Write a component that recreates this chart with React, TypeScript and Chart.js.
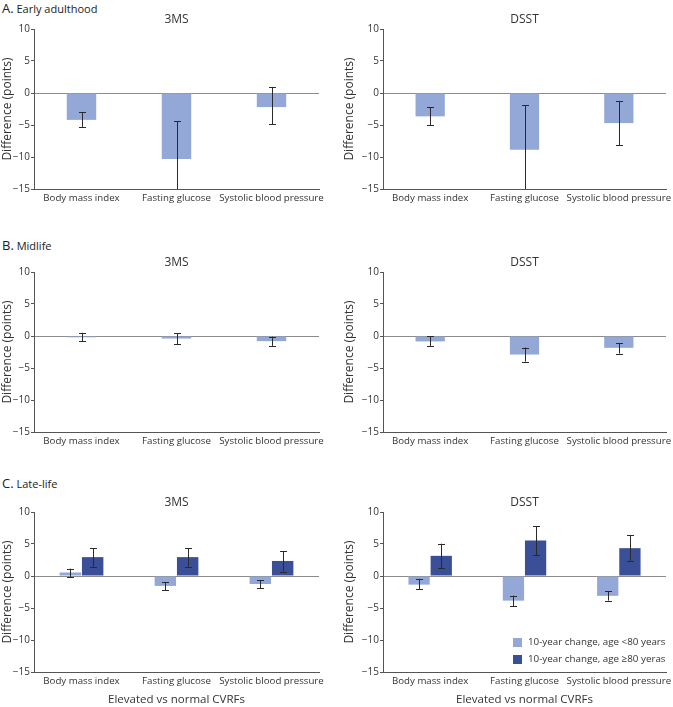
import React, { useEffect, useRef } from "react";
import { Chart, registerables } from "chart.js";

Chart.register(...registerables);
Chart.defaults.font.family = "'Open Sans', sans-serif";

const categories = ["Body mass index", "Fasting glucose", "Systolic blood pressure"];
const yMin = -15;
const yMax = 10;
const yStep = 5;

// A. Early adulthood
const early3msMean = [-4.2, -10.3, -2.2];
const early3msLow = [-5.3, -16.2, -4.85];
const early3msHigh = [-3.0, -4.4, 0.95];
const earlyDsstMean = [-3.65, -8.85, -4.7];
const earlyDsstLow = [-5.05, -15.8, -8.2];
const earlyDsstHigh = [-2.2, -1.9, -1.25];

// B. Midlife
const mid3msMean = [-0.2, -0.4, -0.8];
const mid3msLow = [-0.85, -1.25, -1.55];
const mid3msHigh = [0.5, 0.45, -0.1];
const midDsstMean = [-0.85, -2.9, -1.85];
const midDsstLow = [-1.55, -4.0, -2.75];
const midDsstHigh = [-0.05, -1.8, -1.15];

// C. Late-life
const late3msYoungMean = [0.55, -1.55, -1.25];
const late3msYoungLow = [-0.15, -2.25, -1.9];
const late3msYoungHigh = [1.15, -1.0, -0.65];
const late3msOldMean = [2.95, 2.95, 2.35];
const late3msOldLow = [1.45, 1.45, 0.7];
const late3msOldHigh = [4.35, 4.35, 3.85];
const lateDsstYoungMean = [-1.35, -3.85, -3.1];
const lateDsstYoungLow = [-2.1, -4.7, -3.85];
const lateDsstYoungHigh = [-0.45, -3.05, -2.4];
const lateDsstOldMean = [3.15, 5.55, 4.35];
const lateDsstOldLow = [1.2, 3.25, 2.3];
const lateDsstOldHigh = [5.05, 7.8, 6.4];

const seriesLabels = ["10-year change, age <80 years", "10-year change, age \u226580 yeras"];
const yTitle = "Difference (points)";
const xTitle = "Elevated vs normal CVRFs";

const LIGHT = "#93a8d7";
const DARK = "#3a4f98";
const TEXT = "#333333";
const AXIS = "#555555";

const errorBarPlugin = {
  id: "errorBars",
  afterDatasetsDraw(chart: any) {
    const { ctx, chartArea } = chart;
    const ys = chart.scales.y;
    chart.data.datasets.forEach((ds: any, di: number) => {
      const meta = chart.getDatasetMeta(di);
      meta.data.forEach((el: any, i: number) => {
        const x = Math.round(el.x) + 0.5;
        const hi = ys.getPixelForValue(ds.errHigh[i]);
        const lo = ys.getPixelForValue(ds.errLow[i]);
        const top = Math.max(hi, chartArea.top);
        const bot = Math.min(lo, chartArea.bottom);
        ctx.save();
        ctx.strokeStyle = "#2a2a2a";
        ctx.lineWidth = 1;
        ctx.beginPath();
        ctx.moveTo(x, top);
        ctx.lineTo(x, bot);
        if (hi >= chartArea.top) {
          const yy = Math.round(hi) + 0.5;
          ctx.moveTo(x - 3.5, yy);
          ctx.lineTo(x + 3.5, yy);
        }
        if (lo <= chartArea.bottom) {
          const yy = Math.round(lo) + 0.5;
          ctx.moveTo(x - 3.5, yy);
          ctx.lineTo(x + 3.5, yy);
        }
        ctx.stroke();
        ctx.restore();
      });
    });
  },
};

const insideLegendPlugin = {
  id: "insideLegend",
  afterDraw(chart: any, _args: any, opts: any) {
    if (!opts || !opts.show) return;
    const { ctx, chartArea } = chart;
    ctx.save();
    ctx.font = "9.8px 'Open Sans', sans-serif";
    ctx.textBaseline = "middle";
    ctx.textAlign = "left";
    chart.data.datasets.forEach((ds: any, i: number) => {
      const cy = chartArea.bottom - 30 + i * 17;
      const sx = chartArea.right - 153;
      ctx.fillStyle = ds.backgroundColor;
      ctx.fillRect(sx, cy - 4, 9, 9);
      ctx.fillStyle = TEXT;
      ctx.fillText(ds.label, chartArea.right - 138, cy + 0.5);
    });
    ctx.restore();
  },
};

type Series = { label: string; mean: number[]; low: number[]; high: number[]; color: string };

type PanelProps = {
  title: string;
  series: Series[];
  left: number;
  top: number;
  width: number;
  height: number;
  yAxisWidth: number;
  yTitlePad: number;
  rightPad: number;
  xAxisHeight: number;
  showXTitle: boolean;
  showLegend: boolean;
};

function Panel(p: PanelProps) {
  const ref = useRef<HTMLCanvasElement | null>(null);
  useEffect(() => {
    if (!ref.current) return;
    const two = p.series.length > 1;
    const chart = new Chart(ref.current, {
      type: "bar",
      data: {
        labels: categories,
        datasets: p.series.map((s) => ({
          label: s.label,
          data: s.mean,
          errLow: s.low,
          errHigh: s.high,
          backgroundColor: s.color,
          borderWidth: 0,
          categoryPercentage: two ? 0.47 : 0.31,
          barPercentage: two ? 0.96 : 1,
        })) as any,
      },
      options: {
        animation: false,
        responsive: false,
        devicePixelRatio: 1,
        layout: { padding: { left: 0, right: p.rightPad, top: 0, bottom: 0 } },
        plugins: {
          legend: { display: false },
          tooltip: { enabled: false },
          title: {
            display: true,
            text: p.title,
            color: TEXT,
            fullSize: false,
            font: { size: 12, weight: "normal" },
            padding: { top: 3.6, bottom: 2 },
          },
          insideLegend: { show: p.showLegend },
        } as any,
        scales: {
          x: {
            grid: { display: false, drawTicks: false },
            border: { display: true, color: AXIS, width: 1 },
            ticks: { color: TEXT, font: { size: 9.7 }, padding: 3, maxRotation: 0, minRotation: 0, autoSkip: false },
            title: {
              display: p.showXTitle,
              text: xTitle,
              color: TEXT,
              font: { size: 11.5 },
              padding: { top: 4, bottom: 0 },
            },
            afterFit: (s: any) => {
              s.height = p.xAxisHeight;
            },
          },
          y: {
            min: yMin,
            max: yMax,
            ticks: {
              stepSize: yStep,
              color: TEXT,
              font: { size: 10 },
              padding: 1,
              callback: (v: any) => String(v).replace("-", "\u2212"),
            },
            grid: {
              color: (c: any) => (c.tick && c.tick.value === 0 ? "#8c8c8c" : "rgba(0,0,0,0)"),
              tickColor: AXIS,
              tickLength: 3,
              lineWidth: 1,
            },
            border: { display: true, color: AXIS, width: 1 },
            title: {
              display: true,
              text: yTitle,
              color: TEXT,
              font: { size: 12 },
              padding: { top: p.yTitlePad, bottom: 0 },
            },
            afterFit: (s: any) => {
              s.width = p.yAxisWidth;
            },
          },
        },
      } as any,
      plugins: [errorBarPlugin, insideLegendPlugin],
    });
    return () => chart.destroy();
  }, []);
  return (
    <canvas
      ref={ref}
      width={p.width}
      height={p.height}
      style={{ position: "absolute", left: p.left, top: p.top, width: p.width, height: p.height }}
    />
  );
}

const headerStyle: React.CSSProperties = {
  position: "absolute",
  left: 2,
  fontFamily: "'Open Sans', sans-serif",
  color: "#222",
  lineHeight: "14px",
  whiteSpace: "nowrap",
};

function Header({ top, letter, text }: { top: number; letter: string; text: string }) {
  return (
    <div style={{ ...headerStyle, top }}>
      <span style={{ fontSize: 13 }}>{letter}</span>
      <span style={{ fontSize: 11 }}> {text}</span>
    </div>
  );
}

export default function App() {
  const young = (mean: number[], low: number[], high: number[]): Series => ({
    label: seriesLabels[0],
    mean,
    low,
    high,
    color: LIGHT,
  });
  const old = (mean: number[], low: number[], high: number[]): Series => ({
    label: seriesLabels[1],
    mean,
    low,
    high,
    color: DARK,
  });
  const leftCol = { left: 0, width: 335, yAxisWidth: 34, yTitlePad: 0, rightPad: 16 };
  const rightCol = { left: 335, width: 355, yAxisWidth: 48, yTitlePad: 7.8, rightPad: 24 };
  return (
    <div
      style={{
        position: "absolute",
        left: 0,
        top: 0,
        width: 673,
        height: 707,
        overflow: "hidden",
        background: "#fff",
      }}
    >
      <Header top={0} letter="A." text="Early adulthood" />
      <Header top={236.5} letter="B." text="Midlife" />
      <Header top={475} letter="C." text="Late-life" />

      <Panel {...leftCol} top={9} height={200} xAxisHeight={20} showXTitle={false} showLegend={false}
        title="3MS" series={[young(early3msMean, early3msLow, early3msHigh)]} />
      <Panel {...rightCol} top={9} height={200} xAxisHeight={20} showXTitle={false} showLegend={false}
        title="DSST" series={[young(earlyDsstMean, earlyDsstLow, earlyDsstHigh)]} />

      <Panel {...leftCol} top={252} height={200} xAxisHeight={20} showXTitle={false} showLegend={false}
        title="3MS" series={[young(mid3msMean, mid3msLow, mid3msHigh)]} />
      <Panel {...rightCol} top={252} height={200} xAxisHeight={20} showXTitle={false} showLegend={false}
        title="DSST" series={[young(midDsstMean, midDsstLow, midDsstHigh)]} />

      <Panel {...leftCol} top={492} height={215} xAxisHeight={35} showXTitle={true} showLegend={false}
        title="3MS"
        series={[
          young(late3msYoungMean, late3msYoungLow, late3msYoungHigh),
          old(late3msOldMean, late3msOldLow, late3msOldHigh),
        ]} />
      <Panel {...rightCol} top={492} height={215} xAxisHeight={35} showXTitle={true} showLegend={true}
        title="DSST"
        series={[
          young(lateDsstYoungMean, lateDsstYoungLow, lateDsstYoungHigh),
          old(lateDsstOldMean, lateDsstOldLow, lateDsstOldHigh),
        ]} />
    </div>
  );
}
